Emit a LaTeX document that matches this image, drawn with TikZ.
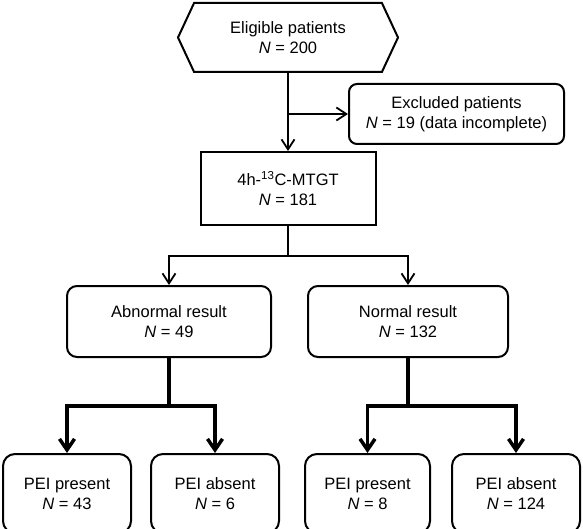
\documentclass[tikz,border=0pt]{standalone}
\usepackage{fontspec}
\setmainfont{Liberation Sans}
\usetikzlibrary{positioning,shapes.symbols,arrows.meta}

\tikzset{
  box/.style={draw, line width=2pt, align=center, inner sep=2pt,
    font=\fontsize{16.5}{20}\selectfont},
  rbox/.style={box, rounded corners=10pt},
  hexbox/.style={box, shape=signal, signal to=west and east, signal pointer angle=130},
  flow/.style={line width=1.8pt, -{Straight Barb[length=10pt,width=13pt]}},
  bigflow/.style={line width=3.5pt, -{Straight Barb[length=11pt,width=15pt]}},
}

\begin{document}
\begin{tikzpicture}[x=1pt, y=1pt]
  \useasboundingbox (0,0) rectangle (583,-529);
  % Define nodes
  \node[hexbox, minimum width=220pt, minimum height=69pt] (elig) at (288,-37.5)
    {Eligible patients\\\textit{N} = 200};
  \node[rbox, rounded corners=8pt, minimum width=215pt, minimum height=60pt,
    below right=10pt and 60pt of elig.south] (excl)
    {Excluded patients\\\textit{N} = 19 (data incomplete)};
  \node[box, minimum width=175pt, minimum height=73pt, below=78pt of elig] (mtgt)
    {4h-\textsuperscript{13}C-MTGT\\\textit{N} = 181};
  \node[rbox, minimum width=204pt, minimum height=71pt, below=59pt of mtgt, xshift=-119pt] (abn)
    {Abnormal result\\\textit{N} = 49};
  \node[rbox, minimum width=200pt, minimum height=71pt, below=59pt of mtgt, xshift=120pt] (norm)
    {Normal result\\\textit{N} = 132};
  \node[rbox, rounded corners=12pt, minimum width=128pt, minimum height=79pt,
    below=95pt of abn, xshift=-102pt] (abnpres) {PEI present\\\textit{N} = 43};
  \node[rbox, rounded corners=12pt, minimum width=128pt, minimum height=79pt,
    below=95pt of abn, xshift=46pt] (abnabs) {PEI absent\\\textit{N} = 6};
  \node[rbox, rounded corners=12pt, minimum width=125pt, minimum height=79pt,
    below=95pt of norm, xshift=-40.5pt] (normpres) {PEI present\\\textit{N} = 8};
  \node[rbox, rounded corners=12pt, minimum width=128pt, minimum height=79pt,
    below=95pt of norm, xshift=108pt] (normabs) {PEI absent\\\textit{N} = 124};
  % Connectors
  \draw[flow] (elig.south) -- (mtgt.north);
  \draw[flow] (elig.south |- excl.west) -- (excl.west);
  \draw[line width=1.8pt] (mtgt.south) -- ++(0,-30) coordinate (split1);
  \draw[flow] (split1) -| (abn.north);
  \draw[flow] (split1) -| (norm.north);
  \draw[line width=3.5pt] (abn.south) -- ++(0,-48) coordinate (split2);
  \draw[bigflow] (split2) -| (abnpres.north);
  \draw[bigflow] (split2) -| (abnabs.north);
  \draw[line width=3.5pt] (norm.south) -- ++(0,-48) coordinate (split3);
  \draw[bigflow] (split3) -| (normpres.north);
  \draw[bigflow] (split3) -| (normabs.north);
\end{tikzpicture}
\end{document}
